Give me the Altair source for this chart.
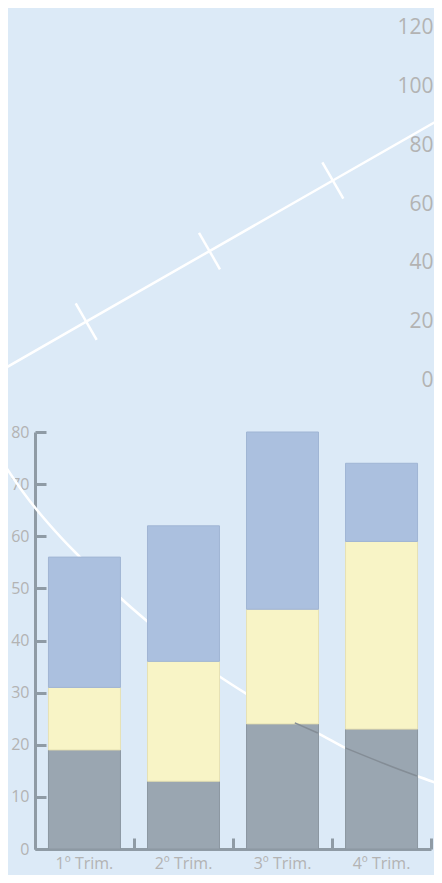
import altair as alt
import pandas as pd

# ---- data ----
quarters = ["1º Trim.", "2º Trim.", "3º Trim.", "4º Trim."]
series = ["Serie 1", "Serie 2", "Serie 3"]          # bottom, middle, top
vals_s1 = [19, 13, 24, 23]
vals_s2 = [12, 23, 22, 36]
vals_s3 = [25, 26, 34, 15]

left_ticks = [0, 10, 20, 30, 40, 50, 60, 70, 80]
right_ticks = [0, 20, 40, 60, 80, 100, 120]

# decorative white diagonal line (right-hand 0-120 scale) and its tick marks
diag_u = [0, 19.5, 47.4, 75.3, 100]
diag_v = [3.2, 20, 44, 68, 89.2]
dtick_u = [19.5, 47.4, 75.3]
dtick_v = [20, 44, 68]

# decorative white arc crossing the bar area (0-80 scale)
arc_u = [0, 5.2, 14.3, 18.1, 27.1, 33.3, 49.5, 55.7, 66.7, 71.7, 78.1, 90.5, 94.3, 100]
arc_v = [75.0, 68.5, 59.3, 56.0, 48.3, 43.7, 33.2, 29.8, 24.2, 22.3, 19.4, 15.2, 14.0, 12.3]

# the parts of the arc that show through the grey segments of bars 3 and 4
over_seg = [1, 1, 2, 2, 2]
over_u = [66.7, 71.9, 78.1, 90.5, 94.3]
over_v = [24.2, 22.25, 19.4, 15.2, 14.0]

# ---- styles ----
bg = "#dceaf7"
fills = ["#9aa6b1", "#f8f4c6", "#abc0df"]
strokes = ["#8c97a1", "#e6e1b4", "#a0b5d4"]
axis_col = "#8f9ba5"
label_col = "#b3b3b3"
font = "Open Sans"

W, H = 396, 417

rows = []
for qi, q in enumerate(quarters):
    for si, (s, vals) in enumerate(zip(series, [vals_s1, vals_s2, vals_s3])):
        rows.append({"quarter": q, "series": s, "idx": si, "value": vals[qi]})
bar_df = pd.DataFrame(rows)
diag_df = pd.DataFrame({"u": diag_u, "v": diag_v})
dtick_df = pd.DataFrame({"u": dtick_u, "v": dtick_v})
arc_df = pd.DataFrame({"u": arc_u, "v": arc_v})
over_df = pd.DataFrame({"seg": over_seg, "u": over_u, "v": over_v})

hid_x = alt.Scale(domain=[0, 100], range=[-35, 407])
right_y = alt.Scale(domain=[0, 120], range=[-51.5, -404.5])
band = alt.Scale(domain=quarters, paddingInner=0.273, paddingOuter=0.136)
band_full = alt.Scale(domain=quarters, paddingInner=0, paddingOuter=0)

arc = alt.Chart(arc_df).mark_line(color="white", strokeWidth=2.5, interpolate="monotone").encode(
    x=alt.X("u:Q", scale=hid_x, axis=None),
    y=alt.Y("v:Q", scale=alt.Scale(domain=[0, 80]), axis=None),
)

diag = alt.Chart(diag_df).mark_line(color="white", strokeWidth=2.5).encode(
    x=alt.X("u:Q", scale=hid_x, axis=None),
    y=alt.Y("v:Q", scale=right_y,
            axis=alt.Axis(orient="right", values=right_ticks, title=None, domain=False,
                          ticks=False, tickSize=0, labelAlign="right", labelPadding=2,
                          labelFontSize=21, labelColor=label_col, labelFont=font,
                          grid=False)),
)

dticks = alt.Chart(dtick_df).mark_point(shape="M0,-1L0,1", angle=330, size=1764,
                                        stroke="white", strokeWidth=2.5, filled=False,
                                        opacity=1).encode(
    x=alt.X("u:Q", scale=hid_x, axis=None),
    y=alt.Y("v:Q", scale=right_y, axis=None),
)

bars = alt.Chart(bar_df).mark_bar(strokeWidth=1).encode(
    x=alt.X("quarter:N", sort=quarters, scale=band,
            axis=alt.Axis(orient="bottom", title=None, labelAngle=0, ticks=False, tickSize=0,
                          domainColor=axis_col, domainWidth=3, labelPadding=6,
                          labelFontSize=16, labelColor=label_col, labelFont=font, grid=False)),
    y=alt.Y("value:Q", stack="zero", scale=alt.Scale(domain=[0, 80]),
            axis=alt.Axis(orient="left", values=left_ticks, title=None, ticks=False, tickSize=0,
                          domainColor=axis_col, domainWidth=3, labelPadding=6,
                          labelFontSize=16, labelColor=label_col, labelFont=font, grid=False)),
    color=alt.Color("series:N", scale=alt.Scale(domain=series, range=fills), legend=None),
    stroke=alt.Stroke("series:N", scale=alt.Scale(domain=series, range=strokes), legend=None),
    order=alt.Order("idx:Q"),
)

over = alt.Chart(over_df).mark_line(color="#848d96", strokeWidth=1.6, interpolate="monotone").encode(
    x=alt.X("u:Q", scale=hid_x, axis=None),
    y=alt.Y("v:Q", scale=alt.Scale(domain=[0, 80]), axis=None),
    detail="seg:N",
)

# invisible copy whose axes supply the inward-pointing tick marks
inward = alt.Chart(bar_df).mark_bar(opacity=0).encode(
    x=alt.X("quarter:N", sort=quarters, scale=band_full,
            axis=alt.Axis(orient="top", offset=-H, title=None, labels=False, domain=False,
                          tickBand="extent", tickSize=11, tickWidth=3, tickColor=axis_col,
                          grid=False)),
    y=alt.Y("value:Q", stack="zero", scale=alt.Scale(domain=[0, 80]),
            axis=alt.Axis(orient="right", offset=-W, values=left_ticks, title=None,
                          labels=False, domain=False, tickSize=11, tickWidth=3,
                          tickColor=axis_col, grid=False)),
    order=alt.Order("idx:Q"),
)

chart = alt.layer(arc, diag, dticks, bars, over, inward).resolve_scale(
    x="independent", y="independent"
).properties(
    width=W, height=H,
    padding={"left": 27, "top": 424, "right": 3, "bottom": 26},
    autosize=alt.AutoSizeParams(type="none"),
).configure(background=bg).configure_view(stroke=None).configure_axis(grid=False)

chart.save("out.html", embed_options={"renderer": "svg", "actions": False})
